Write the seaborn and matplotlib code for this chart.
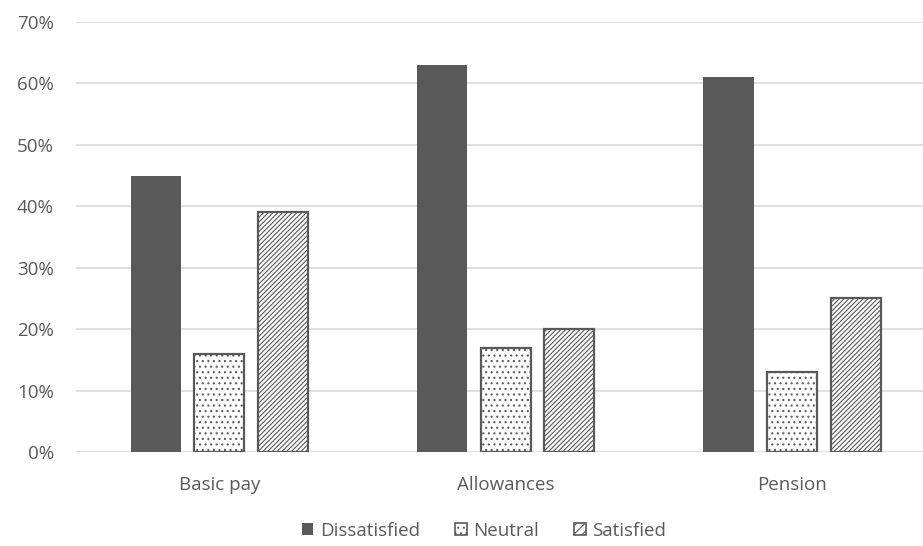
import matplotlib
matplotlib.use("Agg")
import matplotlib.pyplot as plt
import matplotlib.patches as mpatches
import seaborn as sns
import pandas as pd
from matplotlib.ticker import PercentFormatter

categories = ["Basic pay", "Allowances", "Pension"]
levels = ["Dissatisfied", "Neutral", "Satisfied"]
dissatisfied = [0.45, 0.63, 0.61]
neutral = [0.16, 0.17, 0.13]
satisfied = [0.39, 0.20, 0.25]

rows = []
for lvl, vals in zip(levels, [dissatisfied, neutral, satisfied]):
    for cat, v in zip(categories, vals):
        rows.append({"Item": cat, "Response": lvl, "Share": v})
df = pd.DataFrame(rows)

sns.set_theme(style="white")
plt.rcParams["font.family"] = ["Open Sans", "DejaVu Sans"]
plt.rcParams["hatch.linewidth"] = 0.8

dark = "#595959"
text_col = "#595959"
fs = 13.5

fig = plt.figure(figsize=(9.23, 5.46), dpi=100)
ax = fig.add_axes([76 / 923, 1 - 452 / 546, (923 - 76) / 923, (452 - 22) / 546])

sns.barplot(data=df, x="Item", y="Share", hue="Response", order=categories,
            hue_order=levels, width=0.666, gap=0.21, errorbar=None,
            palette=[dark, "white", "white"], ax=ax, legend=False, zorder=3)

styles = {
    "Dissatisfied": dict(hatch=None, lw=0.0),
    "Neutral": dict(hatch="...", lw=1.6),
    "Satisfied": dict(hatch="///////", lw=1.6),
}
bars = [p for p in ax.patches if isinstance(p, mpatches.Rectangle)]
for i, bar in enumerate(bars[: len(levels) * len(categories)]):
    lvl = levels[i // len(categories)]
    st = styles[lvl]
    bar.set_edgecolor(dark)
    bar.set_linewidth(st["lw"])
    if st["hatch"]:
        bar.set_hatch(st["hatch"])

ax.set_ylim(0, 0.70)
ax.set_xlim(-0.5, 2.457)
ax.set_yticks([i / 10 for i in range(8)])
ax.yaxis.set_major_formatter(PercentFormatter(1.0, decimals=0))
ax.grid(axis="y", color="#d9d9d9", linewidth=1.2, zorder=0)
ax.set_axisbelow(True)
for s in ax.spines.values():
    s.set_visible(False)
ax.set_xlabel("")
ax.set_ylabel("")
ax.tick_params(axis="y", length=0, pad=16, labelsize=fs, labelcolor=text_col)
ax.tick_params(axis="x", length=0, pad=17, labelsize=fs, labelcolor=text_col)

handles = [
    mpatches.Patch(facecolor=dark, edgecolor=dark, linewidth=0, label="Dissatisfied"),
    mpatches.Patch(facecolor="white", edgecolor=dark, linewidth=1.2, hatch="...", label="Neutral"),
    mpatches.Patch(facecolor="white", edgecolor=dark, linewidth=1.2, hatch="////", label="Satisfied"),
]
leg = fig.legend(handles=handles, loc="center", bbox_to_anchor=(484 / 923, 1 - 531 / 546),
                 ncol=3, frameon=False, handlelength=0.6, handleheight=0.6,
                 handletextpad=0.35, columnspacing=1.9, fontsize=fs)
for t in leg.get_texts():
    t.set_color(text_col)

fig.savefig("out.png", dpi=100)
